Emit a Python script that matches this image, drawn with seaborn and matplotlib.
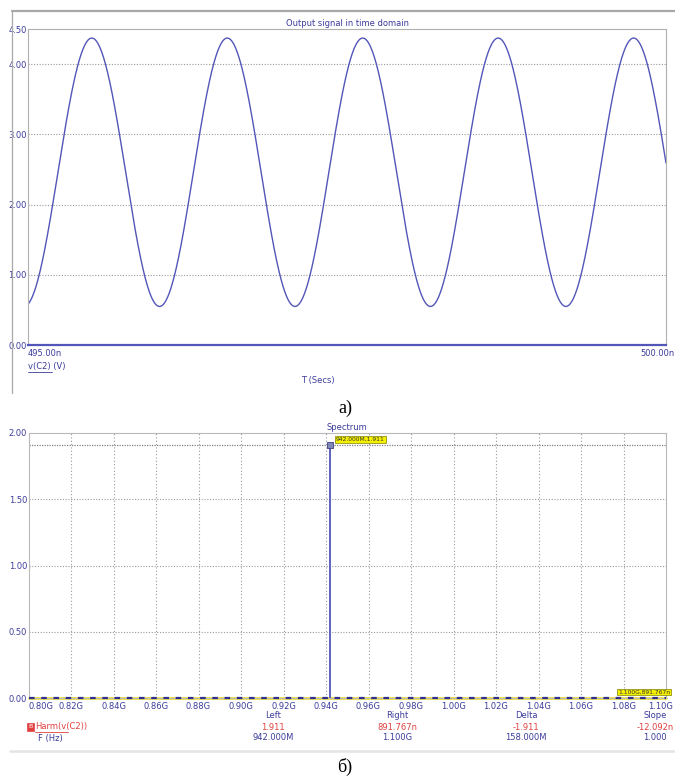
import numpy as np
import pandas as pd
import matplotlib
matplotlib.use("Agg")
import matplotlib.pyplot as plt
import matplotlib.transforms as mtransforms
import seaborn as sns
from matplotlib.lines import Line2D
from matplotlib.patches import Rectangle

# ---------------- data ----------------
# Time-domain signal (read from the chart / spectrum cursor values)
time_start_ns = 495.0
time_end_ns = 500.0
signal_freq_mhz = 942.0          # fundamental, from spectrum cursor
signal_amplitude_v = 1.911       # from spectrum cursor
signal_offset_v = 2.46           # mid level between 0.55 V and 4.37 V
signal_peak_time_ns = 495.50     # first peak position

top_yticks = [0.00, 1.00, 2.00, 3.00, 4.00, 4.50]
top_ytick_labels = ["0.00", "1.00", "2.00", "3.00", "4.00", "4.50"]
top_xtick_labels = ["495.00n", "500.00n"]

# Spectrum
spec_freq_ghz = [0.800, 0.820, 0.840, 0.860, 0.880, 0.900, 0.920, 0.940,
                 0.960, 0.980, 1.000, 1.020, 1.040, 1.060, 1.080, 1.100]
spec_floor_mag = [0.0] * 16
peak_freq_ghz = 0.942
peak_mag = 1.911
bot_xticks = [0.80, 0.82, 0.84, 0.86, 0.88, 0.90, 0.92, 0.94,
              0.96, 0.98, 1.00, 1.02, 1.04, 1.06, 1.08, 1.10]
bot_xtick_labels = ["0.80G", "0.82G", "0.84G", "0.86G", "0.88G", "0.90G",
                    "0.92G", "0.94G", "0.96G", "0.98G", "1.00G", "1.02G",
                    "1.04G", "1.06G", "1.08G", "1.10G"]
bot_yticks = [0.00, 0.50, 1.00, 1.50, 2.00]
bot_ytick_labels = ["0.00", "0.50", "1.00", "1.50", "2.00"]

cursor_cols = ["Left", "Right", "Delta", "Slope"]
cursor_y_vals = ["1.911", "891.767n", "-1.911", "-12.092n"]
cursor_x_vals = ["942.000M", "1.100G", "158.000M", "1.000"]

# ---------------- style ----------------
sns.set_style("white")
plt.rcParams["font.family"] = ["Liberation Sans Narrow", "DejaVu Sans Condensed", "DejaVu Sans"]

W, H = 675, 779
fig = plt.figure(figsize=(W / 100, H / 100), dpi=100)

def fx(x):
    return x / W

def fy(y):
    return 1 - y / H

BLUE_TXT = "#3c3c9c"
TRACE = "#5256b8"
GRID = "#9a9a9a"
RED = "#e04040"
FS = 6.0

def shift(label, dx_px):
    label.set_transform(label.get_transform() +
                        mtransforms.ScaledTranslation(dx_px / 100, 0, fig.dpi_scale_trans))

# ---------------- top panel ----------------
ax1 = fig.add_axes([fx(28), fy(345), fx(666 - 28), (345 - 29) / H])
t = np.linspace(time_start_ns, time_end_ns, 2000)
v = signal_offset_v + signal_amplitude_v * np.cos(
    2 * np.pi * signal_freq_mhz * 1e-3 * (t - signal_peak_time_ns))
df_top = pd.DataFrame({"t": t, "v": v})
sns.lineplot(data=df_top, x="t", y="v", ax=ax1, color=TRACE, lw=1.0)
ax1.set_xlim(time_start_ns, time_end_ns)
ax1.set_ylim(0, 4.5)
ax1.set_yticks(top_yticks)
ax1.set_yticklabels(top_ytick_labels)
ax1.set_xticks([time_start_ns, time_end_ns])
ax1.set_xticklabels(top_xtick_labels)
ax1.tick_params(axis="both", length=0, labelsize=FS, labelcolor=BLUE_TXT, pad=1)
ax1.tick_params(axis="x", pad=3)
xl = ax1.get_xticklabels()
xl[0].set_ha("left")
xl[1].set_ha("right")
shift(xl[1], 8.5)
for yv in [1, 2, 3, 4]:
    ax1.axhline(yv, color=GRID, lw=0.8, ls=(0, (1, 1.5)), zorder=0)
for s in ["top", "right", "left"]:
    ax1.spines[s].set_color("#b0b0b0")
    ax1.spines[s].set_linewidth(0.8)
ax1.spines["bottom"].set_color(TRACE)
ax1.spines["bottom"].set_linewidth(1.6)
ax1.set_xlabel("")
ax1.set_ylabel("")

fig.text(fx(348), fy(23), "Output signal in time domain", ha="center", va="center",
         fontsize=FS, color=BLUE_TXT)
fig.text(fx(28), fy(367), "v(C2) (V)", ha="left", va="center", fontsize=FS,
         color=BLUE_TXT)
fig.add_artist(Line2D([fx(28), fx(52)], [fy(372), fy(372)], color=BLUE_TXT, lw=0.6))
fig.text(fx(318), fy(380), "T (Secs)", ha="center", va="center", fontsize=FS,
         color=BLUE_TXT)

# frame of top panel
fig.add_artist(Line2D([fx(12), fx(675)], [fy(11), fy(11)], color="#a8a8a8", lw=1.6))
fig.add_artist(Line2D([fx(12), fx(12)], [fy(11), fy(393)], color="#a8a8a8", lw=0.9))

fig.text(fx(345), fy(408), "а)", ha="center", va="center", fontsize=13,
         family=["Liberation Serif", "DejaVu Serif"], color="black")

# ---------------- bottom panel ----------------
ax2 = fig.add_axes([fx(28.5), fy(698), fx(666 - 28.5), (698 - 433) / H])
ax2.set_xlim(0.80, 1.10)
ax2.set_ylim(0, 2.0)
for xv in bot_xticks[1:-1]:
    ax2.axvline(xv, color=GRID, lw=0.8, ls=(0, (1, 2)), zorder=0)
for yv in [0.5, 1.0, 1.5]:
    ax2.axhline(yv, color=GRID, lw=0.8, ls=(0, (1, 1.5)), zorder=0)
# cursor horizontal line at peak
ax2.axhline(peak_mag, color="#808080", lw=0.9, ls=(0, (1, 1)), zorder=1)

# floor of spectrum: yellow cursor line with blue dashes
ax2.axhline(0.0, color="#f0e040", lw=2.0, zorder=2, clip_on=False)
df_floor = pd.DataFrame({"f": spec_freq_ghz, "m": spec_floor_mag})
sns.lineplot(data=df_floor, x="f", y="m", ax=ax2, color="#303090", lw=1.6,
             zorder=3, clip_on=False)
ax2.lines[-1].set_linestyle((0, (2.5, 3)))

# spectral line
ax2.vlines([peak_freq_ghz], [0], [peak_mag], color=TRACE, lw=1.3, zorder=4)
sns.scatterplot(x=[peak_freq_ghz], y=[peak_mag], ax=ax2, marker="s", s=22,
                color="#8088b8", edgecolor="#404080", linewidth=0.6, zorder=5)

ax2.set_xticks(bot_xticks)
ax2.set_xticklabels(bot_xtick_labels)
ax2.set_yticks(bot_yticks)
ax2.set_yticklabels(bot_ytick_labels)
ax2.tick_params(axis="both", length=0, labelsize=FS, labelcolor=BLUE_TXT, pad=1)
ax2.tick_params(axis="x", pad=3)
labs = ax2.get_xticklabels()
labs[0].set_ha("left")
labs[-1].set_ha("right")
shift(labs[-1], 7)
for s in ["top", "right", "left", "bottom"]:
    ax2.spines[s].set_color("#b8b8b8")
    ax2.spines[s].set_linewidth(0.8)
ax2.set_xlabel("")
ax2.set_ylabel("")

# cursor value boxes
ax2.annotate(f"{peak_freq_ghz * 1000:.3f}M,{peak_mag:.3f}", xy=(peak_freq_ghz, peak_mag),
             xytext=(4, 4), textcoords="offset points", fontsize=4.3, color="#333333",
             ha="left", va="center",
             bbox=dict(boxstyle="square,pad=0.15", fc="#f4f000", ec="#808000", lw=0.5))
fig.text(fx(644), fy(692), "1.100G,891.767n", ha="center", va="center", fontsize=4.3,
         color="#333333",
         bbox=dict(boxstyle="square,pad=0.15", fc="#f4f000", ec="#808000", lw=0.5))

fig.text(fx(347), fy(428), "Spectrum", ha="center", va="center", fontsize=FS,
         color=BLUE_TXT)

# cursor readouts
col_x = [273, 397, 526, 655]
for cx, name, yv, xv in zip(col_x, cursor_cols, cursor_y_vals, cursor_x_vals):
    fig.text(fx(cx), fy(715), name, ha="center", va="center", fontsize=FS, color=BLUE_TXT)
    fig.text(fx(cx), fy(727), yv, ha="center", va="center", fontsize=FS, color=RED)
    fig.text(fx(cx), fy(738), xv, ha="center", va="center", fontsize=FS, color=BLUE_TXT)

fig.add_artist(Rectangle((fx(27), fy(731)), 7 / W, 8 / H, fc=RED, ec=RED, lw=0.5))
fig.text(fx(30.5), fy(727), "B", ha="center", va="center", fontsize=4.5, color="white")
fig.text(fx(35), fy(727), "Harm(v(C2))", ha="left", va="center", fontsize=FS, color=RED)
fig.add_artist(Line2D([fx(35), fx(68)], [fy(732), fy(732)], color=RED, lw=0.6))
fig.text(fx(50), fy(738), "F (Hz)", ha="center", va="center", fontsize=FS, color=BLUE_TXT)

fig.add_artist(Line2D([fx(10), fx(675)], [fy(751), fy(751)], color="#e4e4e4", lw=1.8))

fig.text(fx(345), fy(767), "б)", ha="center", va="center", fontsize=13,
         family=["Liberation Serif", "DejaVu Serif"], color="black")

fig.savefig("out.png", dpi=100)
